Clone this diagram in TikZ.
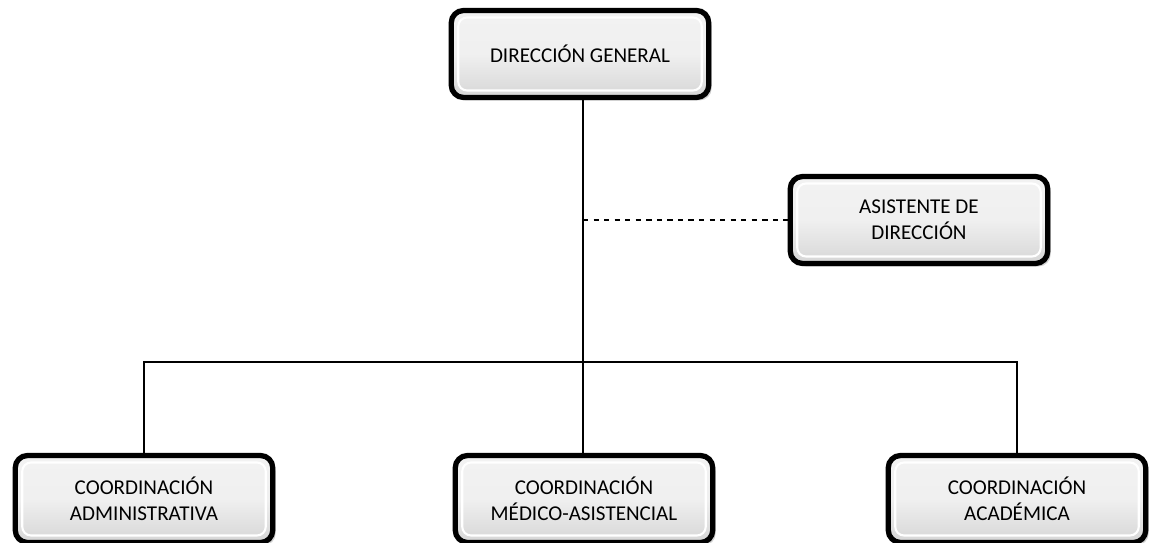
\documentclass[tikz,border=0pt]{standalone}
\usepackage{fontspec}
\setmainfont{Carlito}
\usetikzlibrary{positioning, shadows, calc}
\tikzset{%
	puesto/.style={draw=black, line width=3pt, rectangle, rounded corners=7pt,%
		minimum width=5.15cm, minimum height=1.74cm, align=center,%
		top color=gray!10, bottom color=gray!32, middle color=gray!12,%
		drop shadow={shadow xshift=0.6mm, shadow yshift=-0.6mm, opacity=0.35, fill=gray},%
		path picture={\draw[white, line width=1.2pt, rounded corners=5pt]
			($(path picture bounding box.south west)+(0.14,0.14)$) rectangle
			($(path picture bounding box.north east)+(-0.14,-0.14)$);},%
		font=\fontsize{12}{15}\selectfont},
	linea/.style={line width=0.9pt},
	apoyo/.style={line width=0.9pt, dashed}
}
\begin{document}
\begin{tikzpicture}
	\useasboundingbox (0,0) rectangle (22.98,-10.86);
	\node[puesto] (dir) at (11.6,-1.08) {DIRECCIÓN GENERAL};
	\node[puesto] (asis) at (18.38,-4.4) {ASISTENTE DE\\DIRECCIÓN};
	\node[puesto] (adm) at (2.88,-9.98) {COORDINACIÓN\\ADMINISTRATIVA};
	\node[puesto] (med) at (11.68,-9.98) {COORDINACIÓN\\MÉDICO-ASISTENCIAL};
	\node[puesto] (aca) at (20.34,-9.98) {COORDINACIÓN\\ACADÉMICA};

	\coordinate (eje) at (11.66,-7.24);
	\coordinate (dirb) at (dir.south -| eje);
	\coordinate (rama) at (eje |- asis.west);

	\draw [linea] (dirb) -- (eje);
	\draw [apoyo] (rama) -- (asis.west);
	\draw [linea] (adm.north) |- (eje) -| (aca.north);
	\draw [linea] (eje) -- (med.north -| eje);
\end{tikzpicture}
\end{document}
